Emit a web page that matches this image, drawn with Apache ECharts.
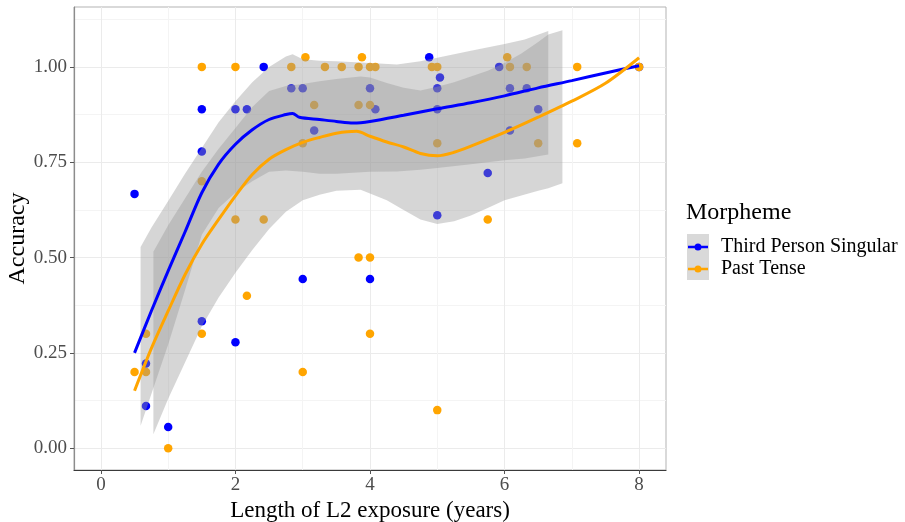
<!DOCTYPE html>
<html>
<head>
<meta charset="utf-8">
<script src="https://cdn.jsdelivr.net/npm/echarts@6/dist/echarts.min.js"></script>
<style>
html, body { margin: 0; padding: 0; background: #fff; }
#chart { width: 905px; height: 522px; }
</style>
</head>
<body>
<div id="chart"></div>
<script>
// points: [years, accuracy]
var thirdPerson = [
  [0.5, 0.667], [0.67, 0.222], [0.67, 0.111], [1.0, 0.056], [1.5, 0.889], [1.5, 0.778],
  [1.5, 0.333], [2.0, 0.889], [2.0, 0.278], [2.17, 0.889], [2.42, 1.0], [2.83, 0.944],
  [3.0, 0.944], [3.0, 0.444], [3.17, 0.833], [4.0, 0.944], [4.0, 0.444], [4.08, 0.889],
  [4.88, 1.025], [5.0, 0.944], [5.04, 0.972], [5.0, 0.889], [5.0, 0.611], [5.75, 0.722],
  [5.92, 1.0], [6.08, 0.944], [6.08, 0.833], [6.33, 0.944], [6.5, 0.889], [8.0, 1.0]
];
var pastTense = [
  [0.5, 0.2], [0.67, 0.3], [0.67, 0.2], [1.0, 0.0], [1.5, 1.0], [1.5, 0.7], [1.5, 0.3],
  [2.0, 1.0], [2.0, 0.6], [2.17, 0.4], [2.42, 0.6], [2.83, 1.0], [3.0, 0.8], [3.0, 0.2],
  [3.04, 1.025], [3.17, 0.9], [3.33, 1.0], [3.58, 1.0], [3.83, 1.0], [3.83, 0.9], [3.83, 0.5],
  [3.88, 1.025], [4.0, 1.0], [4.0, 0.9], [4.0, 0.5], [4.0, 0.3], [4.08, 1.0], [4.92, 1.0],
  [5.0, 1.0], [5.0, 0.8], [5.0, 0.1], [5.75, 0.6], [6.04, 1.025], [6.08, 1.0], [6.33, 1.0],
  [6.5, 0.8], [7.08, 1.0], [7.08, 0.8], [8.0, 1.0]
];

// smoothed curves
var blueLineX = [0.5, 0.75, 1.0, 1.25, 1.5, 1.75, 2.0, 2.25, 2.5, 2.75, 2.85, 2.95, 3.25, 3.5, 3.75, 4.0, 4.5, 5.0, 5.5, 6.0, 6.5, 7.0, 7.5, 8.0];
var blueLineY = [0.25, 0.36, 0.465, 0.567, 0.67, 0.745, 0.797, 0.835, 0.862, 0.875, 0.878, 0.868, 0.862, 0.857, 0.853, 0.857, 0.873, 0.89, 0.906, 0.924, 0.945, 0.964, 0.984, 1.003];
var orangeLineX = [0.5, 0.75, 1.0, 1.25, 1.5, 1.75, 2.0, 2.25, 2.5, 2.75, 3.0, 3.25, 3.5, 3.8, 4.0, 4.25, 4.5, 4.75, 5.0, 5.25, 5.5, 6.0, 6.5, 7.0, 7.5, 8.0];
var orangeLineY = [0.151, 0.262, 0.36, 0.455, 0.535, 0.6, 0.662, 0.718, 0.758, 0.783, 0.802, 0.815, 0.826, 0.831, 0.818, 0.803, 0.79, 0.773, 0.767, 0.776, 0.792, 0.828, 0.868, 0.91, 0.957, 1.024];

// confidence bands
var blueBandX = [0.59, 0.75, 1.0, 1.25, 1.5, 1.75, 2.0, 2.25, 2.5, 2.75, 2.85, 3.0, 3.25, 3.5, 4.0, 4.4, 4.75, 5.0, 5.5, 6.0, 6.3, 6.65];
var blueBandHi = [0.528, 0.578, 0.648, 0.72, 0.787, 0.855, 0.91, 0.96, 1.0, 1.027, 1.033, 1.02, 1.016, 1.015, 1.01, 1.006, 1.015, 1.024, 1.042, 1.06, 1.072, 1.094];
var blueBandLo = [0.059, 0.142, 0.272, 0.414, 0.56, 0.63, 0.67, 0.70, 0.725, 0.728, 0.727, 0.725, 0.72, 0.72, 0.725, 0.726, 0.73, 0.735, 0.745, 0.755, 0.76, 0.77];
var orangeBandX = [0.78, 1.0, 1.25, 1.5, 1.75, 2.0, 2.25, 2.5, 2.75, 3.0, 3.25, 3.5, 3.86, 4.0, 4.25, 4.5, 4.75, 5.0, 5.25, 5.5, 5.75, 6.0, 6.25, 6.5, 6.65, 6.86];
var orangeBandHi = [0.515, 0.585, 0.655, 0.725, 0.785, 0.84, 0.895, 0.937, 0.95, 0.955, 0.962, 0.968, 0.975, 0.972, 0.958, 0.945, 0.938, 0.948, 0.96, 0.975, 0.99, 1.01, 1.035, 1.065, 1.085, 1.096];
var orangeBandLo = [0.037, 0.13, 0.225, 0.32, 0.395, 0.46, 0.52, 0.575, 0.62, 0.65, 0.665, 0.675, 0.678, 0.668, 0.65, 0.625, 0.6, 0.588, 0.595, 0.61, 0.63, 0.65, 0.663, 0.675, 0.682, 0.695];

var xTicks = [0, 2, 4, 6, 8];
var xMinor = [1, 3, 5, 7];
var yTicks = [0, 0.25, 0.5, 0.75, 1.0];
var yMinor = [0.125, 0.375, 0.625, 0.875, 1.125];

var FONT = 'Liberation Serif';

function pairs(xs, ys) {
  var out = [];
  for (var i = 0; i < xs.length; i++) out.push([xs[i], ys[i]]);
  return out;
}

function band(name, xs, lo, hi) {
  return {
    type: 'custom',
    name: name,
    silent: true,
    z: 3,
    data: [[xs[0], hi[0]]],
    renderItem: function (params, api) {
      var pts = [];
      for (var i = 0; i < xs.length; i++) pts.push(api.coord([xs[i], hi[i]]));
      for (var j = xs.length - 1; j >= 0; j--) pts.push(api.coord([xs[j], lo[j]]));
      return {
        type: 'polygon',
        shape: { points: pts },
        style: { fill: '#999999', opacity: 0.4 }
      };
    }
  };
}

var myChart = echarts.init(document.getElementById('chart'));

var keyIcon = 'path://M0,2.3H20V4.7H0Z M6.5,3.5A3.5,3.5 0 1 1 13.5,3.5A3.5,3.5 0 1 1 6.5,3.5Z';

myChart.setOption({
  animation: false,
  backgroundColor: '#ffffff',
  title: {
    text: 'Morpheme',
    left: 686, top: 201, padding: 0,
    textStyle: { fontFamily: FONT, fontSize: 24, fontWeight: 'normal', color: '#000' }
  },
  legend: {
    data: ['Third Person Singular', 'Past Tense'],
    orient: 'vertical',
    left: 688, top: 237, padding: 0,
    itemWidth: 20, itemHeight: 7, itemGap: 2,
    icon: keyIcon,
    selectedMode: false,
    textStyle: { fontFamily: FONT, fontSize: 20, color: '#000', lineHeight: 20, padding: [0, 0, 0, 8] }
  },
  graphic: [{
    type: 'rect', z: 0,
    shape: { x: 687, y: 234, width: 22, height: 46 },
    style: { fill: '#d9d9d9' }
  }],
  grid: {
    left: 74, right: 239, top: 7, bottom: 52,
    containLabel: false, outerBoundsMode: 'none',
    show: true, borderColor: '#b3b3b3', borderWidth: 1, backgroundColor: '#fff'
  },
  xAxis: [{
    type: 'value', min: -0.4, max: 8.4,
    name: 'Length of L2 exposure (years)', nameLocation: 'middle', nameGap: 29,
    nameMoveOverlap: false,
    nameTextStyle: { fontFamily: FONT, fontSize: 23, color: '#000' },
    axisLine: { show: true, onZero: false, lineStyle: { color: '#3a3a3a', width: 1.2 } },
    axisTick: { show: true, length: 4, customValues: xTicks, lineStyle: { color: '#555' } },
    axisLabel: { customValues: xTicks, margin: 6, fontFamily: FONT, fontSize: 19, color: '#4d4d4d' },
    splitLine: { show: true, lineStyle: { color: '#ebebeb', width: 1 } }
  }, {
    type: 'value', min: -0.4, max: 8.4, gridIndex: 0, position: 'bottom',
    axisLine: { show: false }, axisLabel: { show: false },
    axisTick: { show: false, customValues: xMinor },
    splitLine: { show: true, lineStyle: { color: '#f4f4f4', width: 1 } }
  }],
  yAxis: [{
    type: 'value', min: -0.057, max: 1.157,
    name: 'Accuracy', nameLocation: 'middle', nameGap: 44, nameRotate: 90,
    nameMoveOverlap: false,
    nameTextStyle: { fontFamily: FONT, fontSize: 24, color: '#000' },
    axisLine: { show: true, onZero: false, lineStyle: { color: '#8c8c8c', width: 1.2 } },
    axisTick: { show: true, length: 4, customValues: yTicks, lineStyle: { color: '#555' } },
    axisLabel: {
      customValues: yTicks, margin: 7, fontFamily: FONT, fontSize: 19, color: '#4d4d4d',
      formatter: function (v) { return v.toFixed(2); }
    },
    splitLine: { show: true, lineStyle: { color: '#ebebeb', width: 1 } }
  }, {
    type: 'value', min: -0.057, max: 1.157, gridIndex: 0, position: 'left',
    axisLine: { show: false }, axisLabel: { show: false },
    axisTick: { show: false, customValues: yMinor },
    splitLine: { show: true, lineStyle: { color: '#f4f4f4', width: 1 } }
  }],
  series: [
    {
      name: 'Third Person Singular', type: 'scatter', z: 2,
      symbol: 'circle', symbolSize: 8.5,
      itemStyle: { color: '#0000ff', opacity: 1 },
      data: thirdPerson
    },
    {
      name: 'Past Tense', type: 'scatter', z: 2,
      symbol: 'circle', symbolSize: 8.5,
      itemStyle: { color: '#ffa500', opacity: 1 },
      data: pastTense
    },
    band('band-third', blueBandX, blueBandLo, blueBandHi),
    band('band-past', orangeBandX, orangeBandLo, orangeBandHi),
    {
      name: 'Third Person Singular', type: 'line', z: 4,
      showSymbol: false, smooth: 0.3, silent: true,
      lineStyle: { color: '#0000ff', width: 3 },
      itemStyle: { color: '#0000ff' },
      data: pairs(blueLineX, blueLineY)
    },
    {
      name: 'Past Tense', type: 'line', z: 4,
      showSymbol: false, smooth: 0.3, silent: true,
      lineStyle: { color: '#ffa500', width: 3 },
      itemStyle: { color: '#ffa500' },
      data: pairs(orangeLineX, orangeLineY)
    }
  ]
});
</script>
</body>
</html>
